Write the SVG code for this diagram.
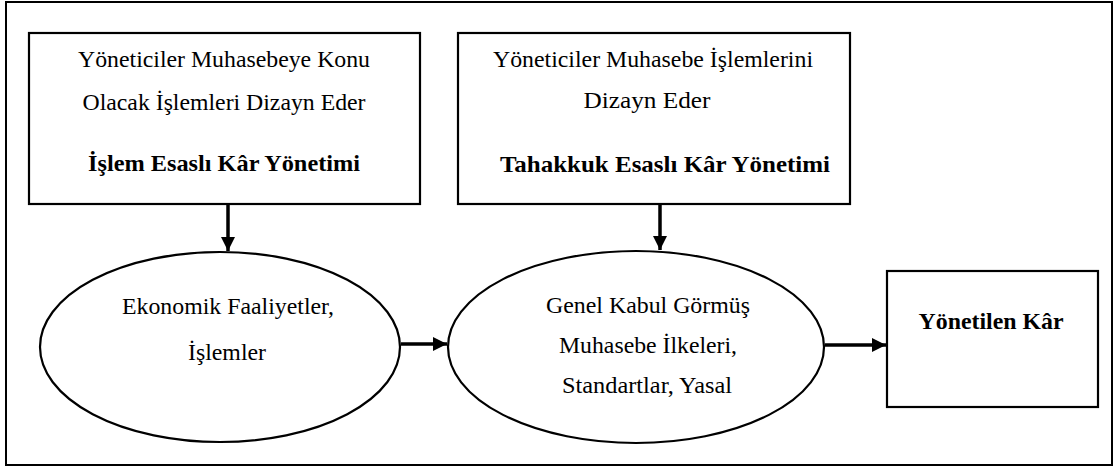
<svg xmlns="http://www.w3.org/2000/svg" width="1118" height="470" viewBox="0 0 1118 470">
<style>
.shape{fill:#fff;stroke:#000;stroke-width:2.2}
.t{font-family:'Liberation Serif','Times New Roman','DejaVu Serif',serif;font-size:24px;fill:#000;text-anchor:middle}
.b{font-weight:bold}
.c{stroke:#000;stroke-width:3.5;fill:none}
</style>
<defs>
<marker id="ah" viewBox="0 0 10 10" refX="10" refY="5" markerWidth="4.2" markerHeight="4" markerUnits="strokeWidth" orient="auto">
<path d="M0,0 L10,5 L0,10 z" fill="#000"/>
</marker>
</defs>
<rect x="0" y="0" width="1118" height="470" fill="#fff"/>
<rect x="6" y="2" width="1106" height="463" fill="none" stroke="#000" stroke-width="2"/>
<g id="box1">
<rect class="shape" x="29" y="33" width="391" height="171"/>
<text class="t" x="224" y="67" textLength="292" lengthAdjust="spacingAndGlyphs">Yöneticiler Muhasebeye Konu</text>
<text class="t" x="224" y="110" textLength="283" lengthAdjust="spacingAndGlyphs">Olacak İşlemleri Dizayn Eder</text>
<text class="t b" x="224" y="171" textLength="272" lengthAdjust="spacingAndGlyphs">İşlem Esaslı Kâr Yönetimi</text>
</g>
<g id="box2">
<rect class="shape" x="458" y="33" width="392" height="171"/>
<text class="t" x="653" y="67" textLength="320" lengthAdjust="spacingAndGlyphs">Yöneticiler Muhasebe İşlemlerini</text>
<text class="t" x="647" y="108" textLength="127" lengthAdjust="spacingAndGlyphs">Dizayn Eder</text>
<text class="t b" x="665" y="172" textLength="330" lengthAdjust="spacingAndGlyphs">Tahakkuk Esaslı Kâr Yönetimi</text>
</g>
<g id="ellipse1">
<ellipse class="shape" cx="220" cy="347" rx="180" ry="95"/>
<text class="t" x="228" y="314" textLength="212" lengthAdjust="spacingAndGlyphs">Ekonomik Faaliyetler,</text>
<text class="t" x="227" y="360" textLength="78" lengthAdjust="spacingAndGlyphs">İşlemler</text>
</g>
<g id="ellipse2">
<ellipse class="shape" cx="636" cy="347" rx="188" ry="96"/>
<text class="t" x="648" y="313" textLength="204" lengthAdjust="spacingAndGlyphs">Genel Kabul Görmüş</text>
<text class="t" x="648" y="353" textLength="178" lengthAdjust="spacingAndGlyphs">Muhasebe İlkeleri,</text>
<text class="t" x="647" y="393" textLength="170" lengthAdjust="spacingAndGlyphs">Standartlar, Yasal</text>
</g>
<g id="box3">
<rect class="shape" x="887" y="271" width="211" height="136"/>
<text class="t b" x="991" y="329" textLength="145" lengthAdjust="spacingAndGlyphs">Yönetilen Kâr</text>
</g>
<g id="connectors">
<line class="c" x1="228" y1="204" x2="228" y2="251" marker-end="url(#ah)"/>
<line class="c" x1="660" y1="204" x2="660" y2="250" marker-end="url(#ah)"/>
<line class="c" x1="401" y1="344" x2="447" y2="344" marker-end="url(#ah)"/>
<line class="c" x1="825" y1="345" x2="886" y2="345" marker-end="url(#ah)"/>
</g>
</svg>
